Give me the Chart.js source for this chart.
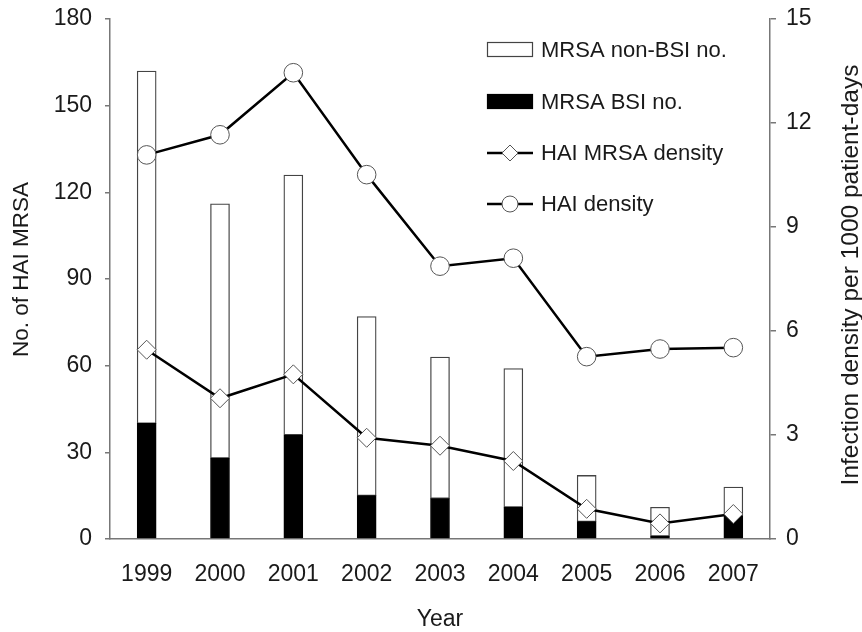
<!DOCTYPE html>
<html>
<head>
<meta charset="utf-8">
<script src="https://cdn.jsdelivr.net/npm/chart.js@4.4.1/dist/chart.umd.min.js"></script>
<style>
  html, body { margin: 0; padding: 0; background: #ffffff; }
  #wrap { width: 862px; height: 632px; }
</style>
</head>
<body>
<div id="wrap"><canvas id="c" width="862" height="632"></canvas></div>
<script>
// ---- data ----
const years = ['1999', '2000', '2001', '2002', '2003', '2004', '2005', '2006', '2007'];
const bsiNo = [40, 28, 36, 15, 14, 11, 6, 1, 8];
const nonBsiNo = [122, 88, 90, 62, 49, 48, 16, 10, 10];
const haiMrsaDensity = [5.46, 4.06, 4.75, 2.92, 2.69, 2.25, 0.87, 0.45, 0.72];
const haiDensity = [11.08, 11.66, 13.45, 10.51, 7.87, 8.10, 5.26, 5.48, 5.52];
const leftTicks = [0, 30, 60, 90, 120, 150, 180];
const rightTicks = [0, 3, 6, 9, 12, 15];
const leftTitle = 'No. of HAI MRSA';
const rightTitle = 'Infection density per 1000 patient-days';
const xTitle = 'Year';

const FONT = "'Liberation Sans', Arial, sans-serif";
const TEXT = '#1a1a1a';
const AXIS = '#777777';

const legendPlugin = {
  id: 'customDecor',
  afterDraw(chart) {
    const ctx = chart.ctx;
    const area = chart.chartArea;
    ctx.save();
    ctx.fillStyle = TEXT;
    ctx.font = '22.5px ' + FONT;
    ctx.textAlign = 'center';
    ctx.textBaseline = 'alphabetic';
    // left title
    ctx.save();
    ctx.translate(28, 269.5);
    ctx.rotate(-Math.PI / 2);
    ctx.fillText(leftTitle, 0, 0);
    ctx.restore();
    // right title
    ctx.font = '24.5px ' + FONT;
    ctx.save();
    ctx.translate(858, 275);
    ctx.rotate(-Math.PI / 2);
    ctx.fillText(rightTitle, 0, 0);
    ctx.restore();
    // x title
    ctx.font = '23px ' + FONT;
    ctx.fillText(xTitle, (area.left + area.right) / 2, 626);

    // legend
    const order = [1, 0, 2, 3];
    const rows = [49.5, 101.5, 153, 204];
    const x0 = 487, x1 = 533, tx = 541;
    ctx.font = '22px ' + FONT;
    ctx.textAlign = 'left';
    ctx.textBaseline = 'middle';
    order.forEach((di, i) => {
      const ds = chart.data.datasets[di];
      const y = rows[i];
      if (ds.type === 'line') {
        ctx.strokeStyle = '#000';
        ctx.lineWidth = 2.5;
        ctx.beginPath();
        ctx.moveTo(x0, y);
        ctx.lineTo(x1, y);
        ctx.stroke();
        const cx = (x0 + x1) / 2;
        const r = 8;
        ctx.beginPath();
        if (ds.pointStyle === 'rectRot') {
          ctx.moveTo(cx - r, y);
          ctx.lineTo(cx, y - r);
          ctx.lineTo(cx + r, y);
          ctx.lineTo(cx, y + r);
          ctx.closePath();
        } else {
          ctx.arc(cx, y, r, 0, Math.PI * 2);
        }
        ctx.fillStyle = '#fff';
        ctx.fill();
        ctx.strokeStyle = '#555';
        ctx.lineWidth = 1;
        ctx.stroke();
      } else {
        ctx.fillStyle = ds.backgroundColor;
        ctx.fillRect(x0, y - 7.5, x1 - x0, 15);
        ctx.strokeStyle = ds.borderColor;
        ctx.lineWidth = 1.2;
        ctx.strokeRect(x0 + 0.5, y - 7, x1 - x0 - 1, 14);
      }
      ctx.fillStyle = TEXT;
      ctx.fillText(ds.label, tx, y + 1);
    });
    ctx.restore();
  }
};

function fixVertical(width) {
  return function (s) {
    s.width = width;
    s.paddingTop = 0;
    s.paddingBottom = 0;
  };
}

new Chart(document.getElementById('c'), {
  type: 'bar',
  data: {
    labels: years,
    datasets: [
      {
        label: 'MRSA BSI no.',
        data: bsiNo,
        yAxisID: 'y',
        stack: 's',
        backgroundColor: '#000000',
        borderColor: '#000000',
        borderWidth: 1,
        barThickness: 19,
        order: 2
      },
      {
        label: 'MRSA non-BSI no.',
        data: nonBsiNo,
        yAxisID: 'y',
        stack: 's',
        backgroundColor: '#ffffff',
        borderColor: '#444444',
        borderWidth: 1.3,
        borderSkipped: false,
        barThickness: 19,
        order: 2
      },
      {
        type: 'line',
        label: 'HAI MRSA density',
        data: haiMrsaDensity,
        yAxisID: 'y2',
        borderColor: '#000000',
        borderWidth: 2.5,
        pointStyle: 'rectRot',
        pointRadius: 9.5,
        pointBackgroundColor: '#ffffff',
        pointBorderColor: '#555555',
        pointBorderWidth: 1,
        tension: 0,
        order: 0
      },
      {
        type: 'line',
        label: 'HAI density',
        data: haiDensity,
        yAxisID: 'y2',
        borderColor: '#000000',
        borderWidth: 2.5,
        pointStyle: 'circle',
        pointRadius: 9.3,
        pointBackgroundColor: '#ffffff',
        pointBorderColor: '#555555',
        pointBorderWidth: 1,
        tension: 0,
        order: 0
      }
    ]
  },
  options: {
    responsive: false,
    devicePixelRatio: 1,
    animation: false,
    layout: { padding: { top: 19, left: 0, right: 0, bottom: 0 } },
    plugins: {
      legend: { display: false },
      tooltip: { enabled: false }
    },
    scales: {
      x: {
        stacked: true,
        offset: true,
        grid: { display: false, drawTicks: false },
        border: { display: true, color: AXIS, width: 1.5 },
        ticks: { font: { family: FONT, size: 23 }, color: TEXT, padding: 22, maxRotation: 0 },
        afterFit(s) { s.height = 93; s.paddingLeft = 0; s.paddingRight = 0; }
      },
      y: {
        position: 'left',
        stacked: true,
        min: 0,
        max: 180,
        afterBuildTicks(s) { s.ticks = leftTicks.map(v => ({ value: v })); },
        grid: { drawOnChartArea: false, drawTicks: true, tickLength: 5, color: AXIS, lineWidth: 1.5 },
        border: { display: true, color: AXIS, width: 1.5 },
        ticks: { font: { family: FONT, size: 23 }, color: TEXT, padding: 13 },
        afterFit: fixVertical(110)
      },
      y2: {
        position: 'right',
        min: 0,
        max: 15,
        afterBuildTicks(s) { s.ticks = rightTicks.map(v => ({ value: v })); },
        grid: { drawOnChartArea: false, drawTicks: true, tickLength: 6, color: AXIS, lineWidth: 1.5 },
        border: { display: true, color: AXIS, width: 1.5 },
        ticks: { font: { family: FONT, size: 23 }, color: TEXT, padding: 10 },
        afterFit: fixVertical(92)
      }
    }
  },
  plugins: [legendPlugin]
});
</script>
</body>
</html>
